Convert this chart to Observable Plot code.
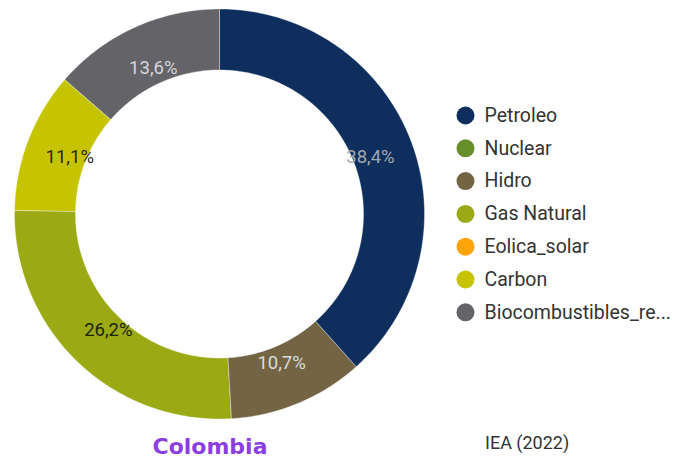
<!DOCTYPE html>
<html>
<head>
<meta charset="utf-8">
<script src="https://cdn.jsdelivr.net/npm/d3@7"></script>
<script src="https://cdn.jsdelivr.net/npm/@observablehq/plot@0.6"></script>
<style>
  html, body { margin: 0; padding: 0; background: #fff; }
  #wrap { position: relative; width: 678px; height: 464px; overflow: hidden; font-family: Roboto, "Noto Sans", sans-serif; }
  #title { position: absolute; left: 110px; width: 200px; top: 433px; text-align: center;
           font-family: "DejaVu Sans", Verdana, sans-serif; font-weight: bold; font-size: 22px; color: #8b3fe0; line-height: 28px; }
  #caption { position: absolute; left: 485px; top: 432px; font-size: 18px; color: #333; line-height: 22px; }
</style>
</head>
<body>
<div id="wrap">
  <div id="chart"></div>
  <div id="title">Colombia</div>
  <div id="caption">IEA (2022)</div>
</div>
<script>
// Data
const categories = ["Petroleo", "Nuclear", "Hidro", "Gas Natural", "Eolica_solar", "Carbon", "Biocombustibles_re..."];
const values = [38.4, 0, 10.7, 26.2, 0, 11.1, 13.6];
const valueLabels = ["38,4%", "", "10,7%", "26,2%", "", "11,1%", "13,6%"];
const colors = ["#0e2f5d", "#67902c", "#736444", "#9aa914", "#ffa30a", "#c6c400", "#636368"];
const labelColors = ["#a3a7b0", "#ffffff", "#dcdcdc", "#1c240c", "#ffffff", "#2a2a0c", "#d6d6da"];

// Layout (pixel geometry)
const W = 678, H = 428;
const cx = 219.5, cy = 214, R = 205, r = 144, rLabel = 161;

const total = d3.sum(values);
let acc = 0;
const slices = categories.map((cat, i) => {
  const a0 = acc / total * 2 * Math.PI;
  acc += values[i];
  const a1 = acc / total * 2 * Math.PI;
  return {cat, value: values[i], label: valueLabels[i], labelColor: labelColors[i], a0, a1, mid: (a0 + a1) / 2};
});

const arcPts = [];
for (const s of slices) {
  if (s.value <= 0) continue;
  const n = Math.max(8, Math.ceil((s.a1 - s.a0) / (Math.PI / 180)));
  for (let k = 0; k <= n; k++) {
    const t = s.a0 + (s.a1 - s.a0) * k / n;
    arcPts.push({cat: s.cat,
      xo: cx + R * Math.sin(t), yo: cy - R * Math.cos(t),
      xi: cx + r * Math.sin(t), yi: cy - r * Math.cos(t)});
  }
}
const labelData = slices.filter(s => s.value > 0).map(s => ({
  ...s, x: cx + rLabel * Math.sin(s.mid), y: cy - rLabel * Math.cos(s.mid)
}));

const legendData = categories.map((cat, i) => ({cat, x: 465, y: 115 + i * 32.8}));

const chart = Plot.plot({
  width: W, height: H,
  margin: 0,
  x: {domain: [0, W], range: [0, W], axis: null},
  y: {domain: [0, H], range: [0, H], axis: null},
  color: {domain: categories, range: colors},
  style: {fontFamily: "Roboto, 'Noto Sans', sans-serif", background: "white"},
  marks: [
    Plot.area(arcPts, {x1: "xo", y1: "yo", x2: "xi", y2: "yi", z: "cat", fill: "cat", curve: "linear", stroke: "white", strokeWidth: 0.6, strokeOpacity: 0.6}),
    Plot.text(labelData, {x: "x", y: "y", text: "label", fill: "labelColor", fontSize: 18.5, textAnchor: "middle"}),
    Plot.dot(legendData, {x: "x", y: "y", r: 9, fill: "cat"}),
    Plot.text(legendData, {x: d => d.x + 19, y: "y", text: "cat", textAnchor: "start", fontSize: 19.5, fill: "#333"})
  ]
});
document.getElementById("chart").appendChild(chart);
</script>
</body>
</html>
